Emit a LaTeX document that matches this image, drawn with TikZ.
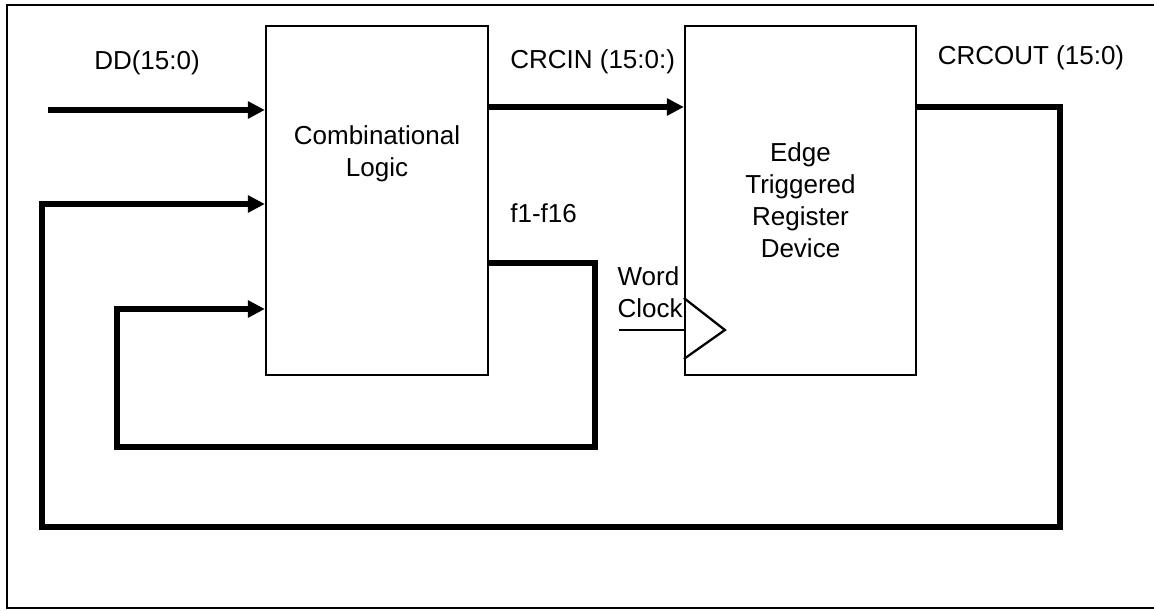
\documentclass[tikz,border=0pt]{standalone}
\usepackage{fontspec}
\setmainfont{Liberation Sans}
\usetikzlibrary{arrows.meta}

\begin{document}
\begin{tikzpicture}[x=0.02cm, y=-0.02cm,
		every node/.style={font=\fontsize{14.8}{18.2}\selectfont, inner sep=0pt},
		bloque/.style={draw, line width=1.3pt, minimum height=6.98cm, inner sep=0pt},
		bus/.style={line width=2.9pt},
		flecha/.style={bus, -{Triangle[length=0.34cm, width=0.33cm]}},
		reloj/.style={line width=1.3pt}]
	\useasboundingbox (0,0) rectangle (1154,611);
	\draw[line width=1.4pt] (1154,5) -- (7,5) -- (7,608) -- (1154,608);
	\node[bloque, minimum width=4.44cm] (comb) at (377,200.5) {};
	\node[bloque, minimum width=4.62cm, align=center] (reg) at (800.5,200.5) {Edge\\Triggered\\Register\\Device};
	\node[align=center] (combtxt) at (377,154) {Combinational\\Logic};
	\node (dd) at (147,63) {DD(15:0)};
	\node[anchor=west] (crcin) at (510,62) {CRCIN (15:0:)};
	\node (crcout) at (1031,58) {CRCOUT (15:0)};
	\node[anchor=west] (fs) at (510,213) {f1-f16};
	\node[anchor=east, align=left] (wclk) at (683,292.5) {Word\\Clock};
	\coordinate (dd0) at (48,110);
	\coordinate (c1) at (1060,107);
	\coordinate (c2) at (42,527);
	\coordinate (c3) at (42,204);
	\coordinate (f0) at (595,263);
	\coordinate (f1) at (117,447);
	\coordinate (f2) at (117,309);
	\coordinate (ck) at (619,330);
	\draw[flecha] (dd0) -- (dd0 -| comb.west);
	\draw[flecha] (comb.east |- c1) -- (reg.west |- c1);
	\draw[flecha] (reg.east |- c1) -- (c1) |- (c2) -- (c3) -- (c3 -| comb.west);
	\draw[flecha] (comb.east |- f0) -- (f0) |- (f1) -- (f2) -- (f2 -| comb.west);
	\draw[reloj] (ck) -- (ck -| reg.west);
	\draw[reloj] (ck -| reg.west) ++(0,-32) -- ++(41,32) -- ++(-41,29);
\end{tikzpicture}
\end{document}
